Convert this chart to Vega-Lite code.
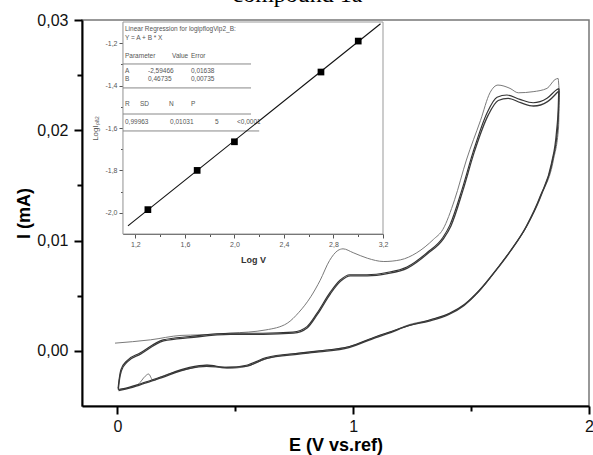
{
  "$schema": "https://vega.github.io/schema/vega-lite/v6.json",
  "autosize": "none",
  "width": 507,
  "height": 386,
  "padding": {"left": 82, "top": 20, "right": 4, "bottom": 49},
  "background": "white",
  "title": {"text": "compound 1a", "font": "Liberation Serif", "fontSize": 24, "fontWeight": "normal", "color": "#000", "anchor": "middle", "dx": -38, "dy": 14, "offset": 0, "baseline": "alphabetic"},
  "config": {
    "view": {"stroke": "#777", "strokeWidth": 1.5},
    "axis": {"grid": false, "labelFont": "Liberation Sans", "titleFont": "Liberation Sans"}
  },
  "datasets": {
    "cv": [
      {"scan": "s1", "i": 0, "E": -0.01, "I": 0.0007},
      {"scan": "s1", "i": 1, "E": 0.14, "I": 0.0010},
      {"scan": "s1", "i": 2, "E": 0.27, "I": 0.0014},
      {"scan": "s1", "i": 3, "E": 0.35, "I": 0.00145},
      {"scan": "s1", "i": 4, "E": 0.48, "I": 0.0016},
      {"scan": "s1", "i": 5, "E": 0.63, "I": 0.0019},
      {"scan": "s1", "i": 6, "E": 0.72, "I": 0.0025},
      {"scan": "s1", "i": 7, "E": 0.77, "I": 0.0035},
      {"scan": "s1", "i": 8, "E": 0.82, "I": 0.0049},
      {"scan": "s1", "i": 9, "E": 0.86, "I": 0.0064},
      {"scan": "s1", "i": 10, "E": 0.90, "I": 0.0082},
      {"scan": "s1", "i": 11, "E": 0.935, "I": 0.0091},
      {"scan": "s1", "i": 12, "E": 0.957, "I": 0.00925},
      {"scan": "s1", "i": 13, "E": 1.00, "I": 0.0089},
      {"scan": "s1", "i": 14, "E": 1.06, "I": 0.0084},
      {"scan": "s1", "i": 15, "E": 1.13, "I": 0.0081},
      {"scan": "s1", "i": 16, "E": 1.20, "I": 0.00825},
      {"scan": "s1", "i": 17, "E": 1.27, "I": 0.0089},
      {"scan": "s1", "i": 18, "E": 1.34, "I": 0.0101},
      {"scan": "s1", "i": 19, "E": 1.38, "I": 0.0110},
      {"scan": "s1", "i": 20, "E": 1.43, "I": 0.0137},
      {"scan": "s1", "i": 21, "E": 1.48, "I": 0.0173},
      {"scan": "s1", "i": 22, "E": 1.54, "I": 0.0209},
      {"scan": "s1", "i": 23, "E": 1.58, "I": 0.0234},
      {"scan": "s1", "i": 24, "E": 1.614, "I": 0.0241},
      {"scan": "s1", "i": 25, "E": 1.665, "I": 0.0238},
      {"scan": "s1", "i": 26, "E": 1.70, "I": 0.0234},
      {"scan": "s1", "i": 27, "E": 1.763, "I": 0.0235},
      {"scan": "s1", "i": 28, "E": 1.822, "I": 0.0238},
      {"scan": "s1", "i": 29, "E": 1.856, "I": 0.0246},
      {"scan": "s1", "i": 30, "E": 1.869, "I": 0.0247},
      {"scan": "s1", "i": 31, "E": 1.875, "I": 0.0234},
      {"scan": "s1", "i": 32, "E": 1.871, "I": 0.0203},
      {"scan": "s1", "i": 33, "E": 1.849, "I": 0.0173},
      {"scan": "s1", "i": 34, "E": 1.802, "I": 0.0143},
      {"scan": "s1", "i": 35, "E": 1.739, "I": 0.0114},
      {"scan": "s1", "i": 36, "E": 1.675, "I": 0.0093},
      {"scan": "s1", "i": 37, "E": 1.612, "I": 0.0075},
      {"scan": "s1", "i": 38, "E": 1.539, "I": 0.0055},
      {"scan": "s1", "i": 39, "E": 1.473, "I": 0.0042},
      {"scan": "s1", "i": 40, "E": 1.41, "I": 0.0034},
      {"scan": "s1", "i": 41, "E": 1.326, "I": 0.0028},
      {"scan": "s1", "i": 42, "E": 1.241, "I": 0.0024},
      {"scan": "s1", "i": 43, "E": 1.156, "I": 0.0017},
      {"scan": "s1", "i": 44, "E": 1.10, "I": 0.0013},
      {"scan": "s1", "i": 45, "E": 0.986, "I": 0.0004},
      {"scan": "s1", "i": 46, "E": 0.859, "I": 0.0000},
      {"scan": "s1", "i": 47, "E": 0.774, "I": -0.0002},
      {"scan": "s1", "i": 48, "E": 0.634, "I": -0.0007},
      {"scan": "s1", "i": 49, "E": 0.549, "I": -0.0014},
      {"scan": "s1", "i": 50, "E": 0.465, "I": -0.0016},
      {"scan": "s1", "i": 51, "E": 0.38, "I": -0.0013},
      {"scan": "s1", "i": 52, "E": 0.308, "I": -0.0016},
      {"scan": "s1", "i": 53, "E": 0.18, "I": -0.0024},
      {"scan": "s1", "i": 54, "E": 0.152, "I": -0.0027},
      {"scan": "s1", "i": 55, "E": 0.132, "I": -0.0021},
      {"scan": "s1", "i": 56, "E": 0.118, "I": -0.0023},
      {"scan": "s1", "i": 57, "E": 0.09, "I": -0.0030},
      {"scan": "s1", "i": 58, "E": 0.04, "I": -0.0034},
      {"scan": "s1", "i": 59, "E": 0.01, "I": -0.0035},

      {"scan": "s2", "i": 0, "E": 0.003, "I": -0.0034},
      {"scan": "s2", "i": 1, "E": 0.008, "I": -0.0025},
      {"scan": "s2", "i": 2, "E": 0.015, "I": -0.0017},
      {"scan": "s2", "i": 3, "E": 0.04, "I": -0.0009},
      {"scan": "s2", "i": 4, "E": 0.096, "I": -0.0002},
      {"scan": "s2", "i": 5, "E": 0.194, "I": 0.0010},
      {"scan": "s2", "i": 6, "E": 0.308, "I": 0.0013},
      {"scan": "s2", "i": 7, "E": 0.477, "I": 0.0016},
      {"scan": "s2", "i": 8, "E": 0.617, "I": 0.0016},
      {"scan": "s2", "i": 9, "E": 0.745, "I": 0.0017},
      {"scan": "s2", "i": 10, "E": 0.804, "I": 0.0022},
      {"scan": "s2", "i": 11, "E": 0.846, "I": 0.0034},
      {"scan": "s2", "i": 12, "E": 0.902, "I": 0.0053},
      {"scan": "s2", "i": 13, "E": 0.944, "I": 0.0064},
      {"scan": "s2", "i": 14, "E": 0.986, "I": 0.0069},
      {"scan": "s2", "i": 15, "E": 1.058, "I": 0.0069},
      {"scan": "s2", "i": 16, "E": 1.143, "I": 0.0071},
      {"scan": "s2", "i": 17, "E": 1.228, "I": 0.0076},
      {"scan": "s2", "i": 18, "E": 1.313, "I": 0.0089},
      {"scan": "s2", "i": 19, "E": 1.381, "I": 0.0103},
      {"scan": "s2", "i": 20, "E": 1.41, "I": 0.0114},
      {"scan": "s2", "i": 21, "E": 1.461, "I": 0.0146},
      {"scan": "s2", "i": 22, "E": 1.508, "I": 0.0180},
      {"scan": "s2", "i": 23, "E": 1.568, "I": 0.0216},
      {"scan": "s2", "i": 24, "E": 1.61, "I": 0.0230},
      {"scan": "s2", "i": 25, "E": 1.652, "I": 0.0232},
      {"scan": "s2", "i": 26, "E": 1.707, "I": 0.0228},
      {"scan": "s2", "i": 27, "E": 1.763, "I": 0.0225},
      {"scan": "s2", "i": 28, "E": 1.822, "I": 0.0229},
      {"scan": "s2", "i": 29, "E": 1.864, "I": 0.0237},
      {"scan": "s2", "i": 30, "E": 1.873, "I": 0.0238},
      {"scan": "s2", "i": 31, "E": 1.872, "I": 0.0225},
      {"scan": "s2", "i": 32, "E": 1.866, "I": 0.0200},
      {"scan": "s2", "i": 33, "E": 1.845, "I": 0.0172},
      {"scan": "s2", "i": 34, "E": 1.798, "I": 0.0142},
      {"scan": "s2", "i": 35, "E": 1.735, "I": 0.0113},
      {"scan": "s2", "i": 36, "E": 1.671, "I": 0.0092},
      {"scan": "s2", "i": 37, "E": 1.608, "I": 0.0074},
      {"scan": "s2", "i": 38, "E": 1.535, "I": 0.0055},
      {"scan": "s2", "i": 39, "E": 1.471, "I": 0.0042},
      {"scan": "s2", "i": 40, "E": 1.408, "I": 0.0034},
      {"scan": "s2", "i": 41, "E": 1.324, "I": 0.0028},
      {"scan": "s2", "i": 42, "E": 1.239, "I": 0.0023},
      {"scan": "s2", "i": 43, "E": 1.154, "I": 0.0017},
      {"scan": "s2", "i": 44, "E": 1.098, "I": 0.0013},
      {"scan": "s2", "i": 45, "E": 0.984, "I": 0.0004},
      {"scan": "s2", "i": 46, "E": 0.857, "I": 0.0000},
      {"scan": "s2", "i": 47, "E": 0.772, "I": -0.0002},
      {"scan": "s2", "i": 48, "E": 0.632, "I": -0.0006},
      {"scan": "s2", "i": 49, "E": 0.547, "I": -0.0013},
      {"scan": "s2", "i": 50, "E": 0.463, "I": -0.0015},
      {"scan": "s2", "i": 51, "E": 0.38, "I": -0.0013},
      {"scan": "s2", "i": 52, "E": 0.306, "I": -0.0015},
      {"scan": "s2", "i": 53, "E": 0.18, "I": -0.0024},
      {"scan": "s2", "i": 54, "E": 0.096, "I": -0.0030},
      {"scan": "s2", "i": 55, "E": 0.032, "I": -0.0034},
      {"scan": "s2", "i": 56, "E": 0.003, "I": -0.0035},

      {"scan": "s3", "i": 0, "E": 0.004, "I": -0.0035},
      {"scan": "s3", "i": 1, "E": 0.009, "I": -0.0026},
      {"scan": "s3", "i": 2, "E": 0.017, "I": -0.0018},
      {"scan": "s3", "i": 3, "E": 0.042, "I": -0.0010},
      {"scan": "s3", "i": 4, "E": 0.098, "I": -0.0003},
      {"scan": "s3", "i": 5, "E": 0.196, "I": 0.0009},
      {"scan": "s3", "i": 6, "E": 0.31, "I": 0.0012},
      {"scan": "s3", "i": 7, "E": 0.479, "I": 0.0015},
      {"scan": "s3", "i": 8, "E": 0.619, "I": 0.0015},
      {"scan": "s3", "i": 9, "E": 0.747, "I": 0.0016},
      {"scan": "s3", "i": 10, "E": 0.806, "I": 0.0021},
      {"scan": "s3", "i": 11, "E": 0.848, "I": 0.0033},
      {"scan": "s3", "i": 12, "E": 0.904, "I": 0.0052},
      {"scan": "s3", "i": 13, "E": 0.946, "I": 0.0063},
      {"scan": "s3", "i": 14, "E": 0.988, "I": 0.0068},
      {"scan": "s3", "i": 15, "E": 1.06, "I": 0.0068},
      {"scan": "s3", "i": 16, "E": 1.145, "I": 0.0070},
      {"scan": "s3", "i": 17, "E": 1.23, "I": 0.0075},
      {"scan": "s3", "i": 18, "E": 1.315, "I": 0.0088},
      {"scan": "s3", "i": 19, "E": 1.384, "I": 0.0102},
      {"scan": "s3", "i": 20, "E": 1.414, "I": 0.0113},
      {"scan": "s3", "i": 21, "E": 1.466, "I": 0.0146},
      {"scan": "s3", "i": 22, "E": 1.513, "I": 0.0180},
      {"scan": "s3", "i": 23, "E": 1.573, "I": 0.0214},
      {"scan": "s3", "i": 24, "E": 1.615, "I": 0.0227},
      {"scan": "s3", "i": 25, "E": 1.657, "I": 0.0229},
      {"scan": "s3", "i": 26, "E": 1.71, "I": 0.0225},
      {"scan": "s3", "i": 27, "E": 1.765, "I": 0.0222},
      {"scan": "s3", "i": 28, "E": 1.824, "I": 0.0226},
      {"scan": "s3", "i": 29, "E": 1.864, "I": 0.0234},
      {"scan": "s3", "i": 30, "E": 1.872, "I": 0.0236},
      {"scan": "s3", "i": 31, "E": 1.870, "I": 0.0222},
      {"scan": "s3", "i": 32, "E": 1.862, "I": 0.0198},
      {"scan": "s3", "i": 33, "E": 1.841, "I": 0.0170},
      {"scan": "s3", "i": 34, "E": 1.795, "I": 0.0141},
      {"scan": "s3", "i": 35, "E": 1.732, "I": 0.0112},
      {"scan": "s3", "i": 36, "E": 1.669, "I": 0.0091},
      {"scan": "s3", "i": 37, "E": 1.606, "I": 0.0073},
      {"scan": "s3", "i": 38, "E": 1.533, "I": 0.0054},
      {"scan": "s3", "i": 39, "E": 1.469, "I": 0.0041},
      {"scan": "s3", "i": 40, "E": 1.406, "I": 0.0033},
      {"scan": "s3", "i": 41, "E": 1.322, "I": 0.0027},
      {"scan": "s3", "i": 42, "E": 1.237, "I": 0.0023},
      {"scan": "s3", "i": 43, "E": 1.152, "I": 0.0016},
      {"scan": "s3", "i": 44, "E": 1.096, "I": 0.0012},
      {"scan": "s3", "i": 45, "E": 0.982, "I": 0.0003},
      {"scan": "s3", "i": 46, "E": 0.855, "I": -0.0001},
      {"scan": "s3", "i": 47, "E": 0.77, "I": -0.0003},
      {"scan": "s3", "i": 48, "E": 0.63, "I": -0.0007},
      {"scan": "s3", "i": 49, "E": 0.545, "I": -0.0014},
      {"scan": "s3", "i": 50, "E": 0.461, "I": -0.0015},
      {"scan": "s3", "i": 51, "E": 0.378, "I": -0.0014},
      {"scan": "s3", "i": 52, "E": 0.304, "I": -0.0016},
      {"scan": "s3", "i": 53, "E": 0.178, "I": -0.0025},
      {"scan": "s3", "i": 54, "E": 0.094, "I": -0.0031},
      {"scan": "s3", "i": 55, "E": 0.03, "I": -0.0035},
      {"scan": "s3", "i": 56, "E": 0.005, "I": -0.0036}
    ],
    "pts": [
      {"lx": 1.301, "ly": -1.985},
      {"lx": 1.699, "ly": -1.800},
      {"lx": 2.0, "ly": -1.665},
      {"lx": 2.699, "ly": -1.336},
      {"lx": 3.0, "ly": -1.190}
    ],
    "fit": [
      {"lx": 1.14, "ly": -2.062},
      {"lx": 3.18, "ly": -1.108}
    ],
    "frame": [
      {"lx": 1.1, "lx2": 3.2, "ly": -2.1, "ly2": -1.1}
    ],
    "table": [
      {"lx": 1.116, "ly": -1.133, "t": "Linear Regression for logipflogVip2_B:"},
      {"lx": 1.116, "ly": -1.175, "t": "Y = A + B * X"},
      {"lx": 1.116, "ly": -1.260, "t": "Parameter"},
      {"lx": 1.496, "ly": -1.260, "t": "Value"},
      {"lx": 1.649, "ly": -1.260, "t": "Error"},
      {"lx": 1.116, "ly": -1.331, "t": "A"},
      {"lx": 1.302, "ly": -1.331, "t": "-2,59466"},
      {"lx": 1.649, "ly": -1.331, "t": "0,01638"},
      {"lx": 1.116, "ly": -1.369, "t": "B"},
      {"lx": 1.302, "ly": -1.369, "t": "0,46735"},
      {"lx": 1.649, "ly": -1.369, "t": "0,00735"},
      {"lx": 1.116, "ly": -1.487, "t": "R"},
      {"lx": 1.237, "ly": -1.487, "t": "SD"},
      {"lx": 1.472, "ly": -1.487, "t": "N"},
      {"lx": 1.649, "ly": -1.487, "t": "P"},
      {"lx": 1.116, "ly": -1.572, "t": "0,99963"},
      {"lx": 1.480, "ly": -1.572, "t": "0,01031"},
      {"lx": 1.843, "ly": -1.572, "t": "5"},
      {"lx": 2.021, "ly": -1.572, "t": "<0,0001"}
    ],
    "rules": [
      {"lx": 1.1, "lx2": 2.134, "ly": -1.298},
      {"lx": 1.1, "lx2": 2.134, "ly": -1.411},
      {"lx": 1.1, "lx2": 2.134, "ly": -1.534},
      {"lx": 1.1, "lx2": 2.2, "ly": -1.614}
    ]
  },
  "layer": [
    {
      "data": {"name": "cv"},
      "mark": {"type": "line", "interpolate": "monotone"},
      "encoding": {
        "x": {"field": "E", "type": "quantitative", "scale": {"domain": [-0.15, 2.0], "nice": false, "zero": false},
          "axis": {"orient": "bottom", "title": "E (V vs.ref)", "values": [0, 0.5, 1, 1.5, 2],
            "labelExpr": "datum.value % 1 == 0 ? '' + datum.value : ''",
            "labelFontSize": 16, "labelColor": "#111", "labelPadding": 4, "labelFlush": false, "labelOverlap": false,
            "titleFontSize": 18, "titleFontWeight": "bold", "titleColor": "#000", "titlePadding": 2,
            "domainColor": "#000", "domainWidth": 2, "tickColor": "#000", "tickWidth": 2,
            "tickSize": {"condition": {"test": "datum.value % 1 == 0", "value": 8}, "value": 5}}},
        "y": {"field": "I", "type": "quantitative", "scale": {"domain": [-0.005, 0.03], "nice": false, "zero": false},
          "axis": {"orient": "left", "title": "I (mA)", "values": [0, 0.005, 0.01, 0.015, 0.02, 0.025, 0.03],
            "labelExpr": "round(datum.value*1000) % 10 == 0 ? replace(format(datum.value, '.2f'), '.', ',') : ''",
            "labelFontSize": 16, "labelColor": "#111", "labelPadding": 6, "labelOverlap": false, "labelFlush": false,
            "titleFontSize": 18, "titleFontWeight": "bold", "titleColor": "#000", "titlePadding": 3,
            "domainColor": "#000", "domainWidth": 2, "tickColor": "#000", "tickWidth": 2,
            "tickSize": {"condition": {"test": "round(datum.value*1000) % 10 == 0", "value": 8}, "value": 5}}},
        "order": {"field": "i", "type": "quantitative"},
        "detail": {"field": "scan"},
        "color": {"field": "scan", "type": "nominal", "scale": {"domain": ["s1", "s2", "s3"], "range": ["#7a7a7a", "#333333", "#3a3a3a"]}, "legend": null},
        "strokeWidth": {"field": "scan", "type": "nominal", "scale": {"domain": ["s1", "s2", "s3"], "range": [1, 1.3, 1.3]}, "legend": null}
      }
    },
    {
      "encoding": {
        "x": {"field": "lx", "type": "quantitative", "scale": {"domain": [1.1, 3.2], "range": [41, 301], "nice": false, "zero": false},
          "axis": {"orient": "bottom", "offset": -172, "title": "Log V", "values": [1.2, 1.4, 1.6, 1.8, 2.0, 2.2, 2.4, 2.6, 2.8, 3.0, 3.2],
            "labelExpr": "round(datum.value*10) % 4 == 0 ? replace(format(datum.value, '.1f'), '.', ',') : ''",
            "labelFontSize": 7, "labelColor": "#555", "labelPadding": 2, "labelOverlap": false, "labelFlush": false,
            "titleFontSize": 9, "titleFontWeight": "bold", "titleColor": "#333", "titlePadding": 8,
            "domainColor": "#555", "domainWidth": 1.2, "tickColor": "#555", "tickWidth": 1,
            "tickSize": {"condition": {"test": "round(datum.value*10) % 4 == 0", "value": 4}, "value": 2.5}}},
        "y": {"field": "ly", "type": "quantitative", "scale": {"domain": [-2.1, -1.1], "range": [214, 2], "nice": false, "zero": false},
          "axis": {"orient": "left", "offset": -41, "title": "LogIₚₐ₂", "values": [-2.0, -1.9, -1.8, -1.7, -1.6, -1.5, -1.4, -1.3, -1.2],
            "labelExpr": "round(datum.value*10) % 2 == 0 ? replace(replace(format(datum.value, '.1f'), '.', ','), '−', '-') : ''",
            "labelFontSize": 7, "labelColor": "#555", "labelPadding": 2, "labelOverlap": false, "labelFlush": false,
            "titleFontSize": 8, "titleFontWeight": "normal", "titleColor": "#555", "titlePadding": 5,
            "domainColor": "#555", "domainWidth": 1.2, "tickColor": "#555", "tickWidth": 1,
            "tickSize": {"condition": {"test": "round(datum.value*10) % 2 == 0", "value": 4}, "value": 2.5}}}
      },
      "layer": [
        {
          "data": {"name": "frame"},
          "mark": {"type": "rect", "fill": "white", "stroke": "#999", "strokeWidth": 1},
          "encoding": {"x2": {"field": "lx2"}, "y2": {"field": "ly2"}}
        },
        {
          "data": {"name": "rules"},
          "mark": {"type": "rule", "color": "#888", "strokeWidth": 1},
          "encoding": {"x2": {"field": "lx2"}}
        },
        {
          "data": {"name": "table"},
          "mark": {"type": "text", "align": "left", "baseline": "middle", "font": "Liberation Sans", "fontSize": 6.5, "color": "#555"},
          "encoding": {"text": {"field": "t"}}
        },
        {
          "data": {"name": "fit"},
          "mark": {"type": "line", "color": "#111", "strokeWidth": 1.1},
          "encoding": {}
        },
        {
          "data": {"name": "pts"},
          "mark": {"type": "square", "filled": true, "color": "#000", "size": 45, "opacity": 1},
          "encoding": {}
        }
      ]
    }
  ],
  "resolve": {"scale": {"x": "independent", "y": "independent"}, "axis": {"x": "independent", "y": "independent"}}
}
